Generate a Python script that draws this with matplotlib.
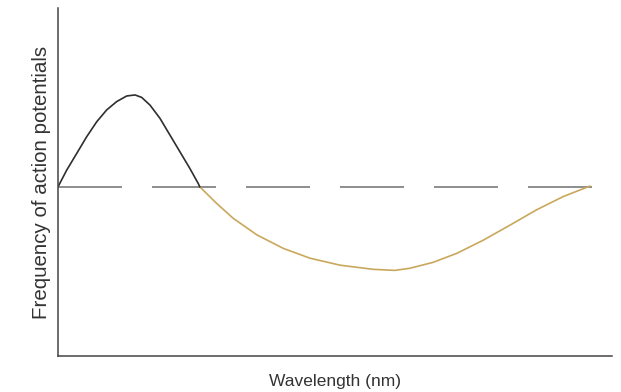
import matplotlib
matplotlib.use("Agg")
import matplotlib.pyplot as plt

# Response curve, arbitrary units (x: wavelength 0-100, y: frequency 0-100)
baseline = 48.6
baseline_x = [0.0, 96.5]

excite_x = [0.0, 1.57, 3.38, 5.18, 6.99, 8.79, 10.6, 12.4, 13.9, 15.1, 16.6,
            18.4, 20.2, 22.0, 23.8, 25.3, 25.6]
excite_y = [48.6, 53.4, 58.2, 63.0, 67.3, 70.7, 73.1, 74.7, 75.0, 74.3, 72.1,
            68.3, 63.5, 58.7, 53.9, 49.6, 48.6]

inhib_x = [25.6, 28.6, 31.6, 35.9, 40.7, 45.5, 50.9, 56.9, 60.8, 63.5, 67.7,
           72.0, 76.8, 81.6, 86.4, 91.2, 96.0]
inhib_y = [48.6, 43.9, 39.6, 34.8, 30.9, 28.1, 26.1, 24.9, 24.6, 25.2, 26.9,
           29.5, 33.3, 37.6, 42.0, 45.8, 48.8]

plt.rcParams["font.family"] = ["Liberation Sans", "DejaVu Sans"]

fig = plt.figure(figsize=(6.21, 3.92), dpi=100)
ax = fig.add_axes([0.0934, 0.0918, 0.892, 0.888])

lw = 1.2
ax.plot(baseline_x, [baseline, baseline], color="#7a7a7a", lw=lw,
        dashes=(64 * 0.72 / lw, 30 * 0.72 / lw))
ax.plot(inhib_x, inhib_y, color="#c9a85c", lw=lw, solid_joinstyle="round")
ax.plot(excite_x, excite_y, color="#2e2e2e", lw=lw, solid_joinstyle="round")

ax.set_xlim(0, 100)
ax.set_ylim(0, 100)
ax.set_xticks([])
ax.set_yticks([])
for side in ("top", "right"):
    ax.spines[side].set_visible(False)
for side in ("left", "bottom"):
    ax.spines[side].set_color("#444444")
    ax.spines[side].set_linewidth(1.1)

ax.set_xlabel("Wavelength (nm)", fontsize=12.5, color="#333333", labelpad=13)
ax.set_ylabel("Frequency of action potentials", fontsize=14.8, color="#333333", labelpad=5)

fig.savefig("out.png", dpi=100)
